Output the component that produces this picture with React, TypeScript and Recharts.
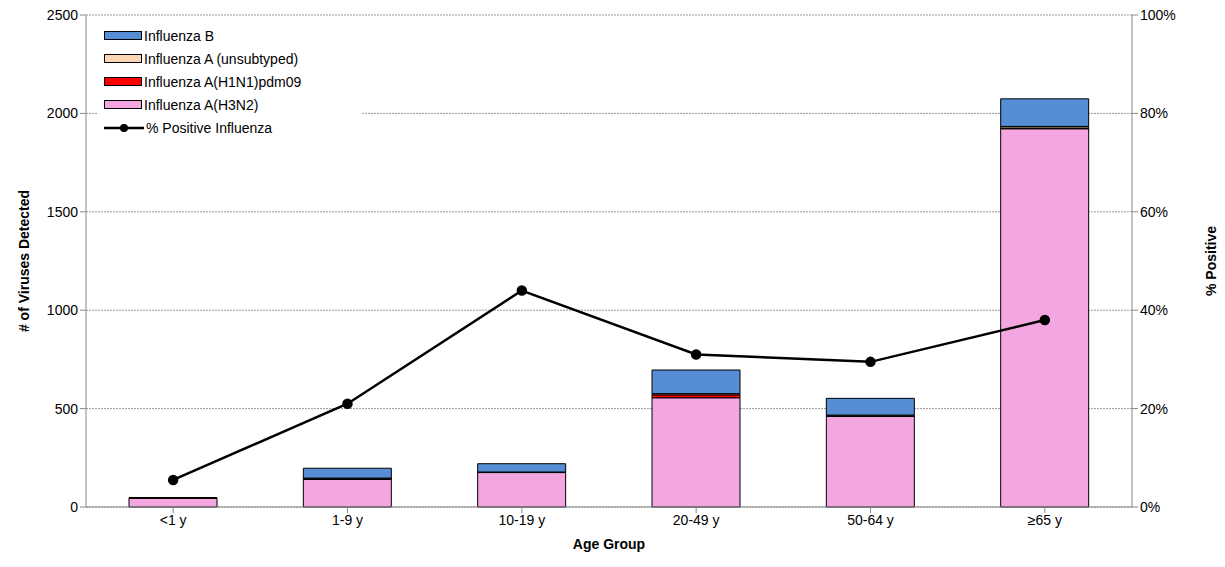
import { ComposedChart, Bar, Line, XAxis, YAxis, CartesianGrid } from 'recharts'

const ageGroups = ['<1 y', '1-9 y', '10-19 y', '20-49 y', '50-64 y', '≥65 y']
const h3n2 = [44, 140, 175, 555, 460, 1922]
const h1n1 = [2, 3, 1, 15, 3, 4]
const unsubtyped = [2, 4, 2, 6, 4, 8]
const fluB = [0, 50, 42, 120, 85, 140]
const pctPositive = [5.5, 21, 44, 31, 29.5, 38]

const data = ageGroups.map((g, i) => ({
  g,
  h3n2: h3n2[i],
  h1n1: h1n1[i],
  unsub: unsubtyped[i],
  fluB: fluB[i],
  pct: pctPositive[i],
}))

const legendItems = [
  { name: 'Influenza B', color: '#558ed5' },
  { name: 'Influenza A (unsubtyped)', color: '#fcd5b5' },
  { name: 'Influenza A(H1N1)pdm09', color: '#ff0000' },
  { name: 'Influenza A(H3N2)', color: '#f4a6e0' },
]

const font = '"Liberation Sans", Arial, sans-serif'
const tick = { fill: '#000', fontSize: 14, fontFamily: font }

export default function App() {
  return (
    <div style={{ margin: -8, position: 'relative', width: 1225, height: 567, background: '#fff' }}>
      <ComposedChart width={1225} height={567} data={data} margin={{ top: 15, right: 0, bottom: 0, left: 0 }} barCategoryGap={0}>
        <CartesianGrid yAxisId="l" vertical={false} stroke="#999" strokeDasharray="2 1" />
        <XAxis dataKey="g" height={60} tick={tick} tickLine={{ stroke: '#888' }} axisLine={{ stroke: '#888' }}
          label={{ value: 'Age Group', position: 'insideBottom', offset: 18, style: { ...tick, fontWeight: 'bold' } }} />
        <YAxis yAxisId="l" width={86} domain={[0, 2500]} ticks={[0, 500, 1000, 1500, 2000, 2500]} tick={tick}
          tickLine={{ stroke: '#888' }} axisLine={{ stroke: '#888' }}
          label={{ value: '# of Viruses Detected', angle: -90, position: 'insideLeft', offset: 24, style: { ...tick, fontWeight: 'bold', textAnchor: 'middle' } }} />
        <YAxis yAxisId="r" orientation="right" width={93} domain={[0, 100]} ticks={[0, 20, 40, 60, 80, 100]}
          tickFormatter={(v) => `${v}%`} tick={tick} tickLine={{ stroke: '#888' }} axisLine={{ stroke: '#888' }}
          label={{ value: '% Positive', angle: -90, position: 'insideRight', offset: 14, style: { ...tick, fontWeight: 'bold', textAnchor: 'middle' } }} />
        <Bar yAxisId="l" dataKey="h3n2" stackId="a" fill="#f4a6e0" stroke="#000" strokeWidth={1} barSize={88} isAnimationActive={false} />
        <Bar yAxisId="l" dataKey="h1n1" stackId="a" fill="#ff0000" stroke="#000" strokeWidth={1} barSize={88} isAnimationActive={false} />
        <Bar yAxisId="l" dataKey="unsub" stackId="a" fill="#fcd5b5" stroke="#000" strokeWidth={1} barSize={88} isAnimationActive={false} />
        <Bar yAxisId="l" dataKey="fluB" stackId="a" fill="#558ed5" stroke="#000" strokeWidth={1} barSize={88} isAnimationActive={false} />
        <Line yAxisId="r" dataKey="pct" stroke="#000" strokeWidth={2.5} dot={{ r: 4, fill: '#000', stroke: '#000' }} isAnimationActive={false} />
      </ComposedChart>
      <div style={{ position: 'absolute', left: 98, top: 20, width: 252, background: '#fff', fontFamily: font, fontSize: 14, padding: '4px 6px' }}>
        {legendItems.map((it) => (
          <div key={it.name} style={{ display: 'flex', alignItems: 'center', height: 23 }}>
            <span style={{ width: 38, height: 9, background: it.color, border: '1px solid #000', boxSizing: 'border-box', marginRight: 2 }} />
            {it.name}
          </div>
        ))}
        <div style={{ display: 'flex', alignItems: 'center', height: 23 }}>
          <svg width={40} height={10} style={{ marginRight: 2 }}>
            <line x1={0} y1={5} x2={40} y2={5} stroke="#000" strokeWidth={2.5} />
            <circle cx={20} cy={5} r={4} fill="#000" />
          </svg>
          % Positive Influenza
        </div>
      </div>
    </div>
  )
}
